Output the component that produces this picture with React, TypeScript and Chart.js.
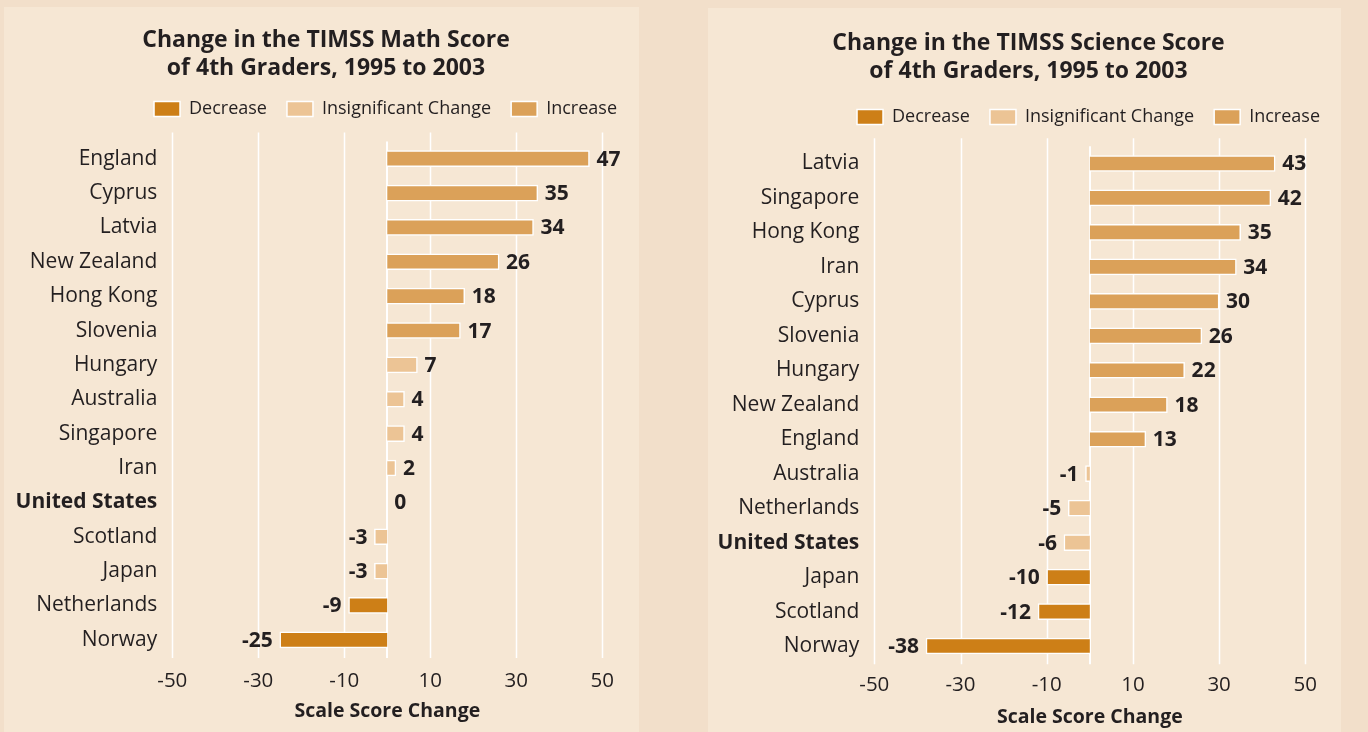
import React, { useEffect, useRef } from "react";
import { Chart, registerables } from "chart.js";

Chart.register(...registerables);

// ---------- data ----------
const LEGEND_LABELS = ["Decrease", "Insignificant Change", "Increase"];
const AXIS_TICKS = [-50, -30, -10, 10, 30, 50];
const AXIS_TITLE = "Scale Score Change";
const HIGHLIGHT = "United States";

const MATH_TITLE = ["Change in the TIMSS Math Score", "of 4th Graders, 1995 to 2003"];
const MATH_COUNTRIES = [
  "England", "Cyprus", "Latvia", "New Zealand", "Hong Kong", "Slovenia", "Hungary",
  "Australia", "Singapore", "Iran", "United States", "Scotland", "Japan", "Netherlands", "Norway",
];
const MATH_CHANGE = [47, 35, 34, 26, 18, 17, 7, 4, 4, 2, 0, -3, -3, -9, -25];
const MATH_STATUS = [
  "Increase", "Increase", "Increase", "Increase", "Increase", "Increase",
  "Insignificant Change", "Insignificant Change", "Insignificant Change", "Insignificant Change",
  "Insignificant Change", "Insignificant Change", "Insignificant Change",
  "Decrease", "Decrease",
];

const SCI_TITLE = ["Change in the TIMSS Science Score", "of 4th Graders, 1995 to 2003"];
const SCI_COUNTRIES = [
  "Latvia", "Singapore", "Hong Kong", "Iran", "Cyprus", "Slovenia", "Hungary", "New Zealand",
  "England", "Australia", "Netherlands", "United States", "Japan", "Scotland", "Norway",
];
const SCI_CHANGE = [43, 42, 35, 34, 30, 26, 22, 18, 13, -1, -5, -6, -10, -12, -38];
const SCI_STATUS = [
  "Increase", "Increase", "Increase", "Increase", "Increase", "Increase", "Increase", "Increase", "Increase",
  "Insignificant Change", "Insignificant Change", "Insignificant Change",
  "Decrease", "Decrease", "Decrease",
];

// ---------- styles ----------
const COLORS: Record<string, string> = {
  "Decrease": "#cd7f17",
  "Insignificant Change": "#ecc495",
  "Increase": "#dba159",
};
const TEXT = "#231f20";
const FONT = "'Open Sans', 'Noto Sans', sans-serif";
const PAGE_BG = "#f2dfca";
const PANEL_BG = "#f6e7d4";

type Layout = {
  left: number; top: number; W: number; H: number;
  padL: number; padR: number; areaLeft: number; xMax: number;
  titlePadTop: number; titlePadBottom: number; spacer: number;
  axisH: number; tickPad: number; axisTitleY: number; gridExtend: number;
};

const LEFT_LAYOUT: Layout = {
  left: 4, top: 7, W: 635, H: 725, padL: 11, padR: 2, areaLeft: 168.3, xMax: 58.07,
  titlePadTop: 19, titlePadBottom: -2, spacer: 13.5, axisH: 75, tickPad: 12,
  axisTitleY: 704, gridExtend: 9,
};
const RIGHT_LAYOUT: Layout = {
  left: 708, top: 8, W: 633, H: 724, padL: 9, padR: 1, areaLeft: 166.3, xMax: 58.05,
  titlePadTop: 21, titlePadBottom: 3, spacer: 10.25, axisH: 68.75, tickPad: 10,
  axisTitleY: 709, gridExtend: 8,
};

const gridPlugin = {
  id: "customGrid",
  beforeDatasetsDraw(chart: any, _args: any, opts: any) {
    const { ctx, chartArea } = chart;
    const xs = chart.scales.x;
    ctx.save();
    ctx.strokeStyle = "#ffffff";
    ctx.lineWidth = 1.5;
    AXIS_TICKS.forEach((v) => {
      const px = Math.round(xs.getPixelForValue(v)) + 0.5;
      ctx.beginPath();
      ctx.moveTo(px, chartArea.top - (opts.extend || 0));
      ctx.lineTo(px, chartArea.bottom + 1);
      ctx.stroke();
    });
    const z = Math.round(xs.getPixelForValue(0));
    ctx.lineWidth = 2;
    ctx.beginPath();
    ctx.moveTo(z, chartArea.top);
    ctx.lineTo(z, chartArea.bottom + 1);
    ctx.stroke();
    ctx.restore();
  },
  afterDraw(chart: any, _args: any, opts: any) {
    // axis title centred under the -50..50 tick span
    const { ctx } = chart;
    const xs = chart.scales.x;
    const cx = (xs.getPixelForValue(AXIS_TICKS[0]) + xs.getPixelForValue(AXIS_TICKS[AXIS_TICKS.length - 1])) / 2;
    ctx.save();
    ctx.fillStyle = TEXT;
    ctx.font = `bold 19.5px ${FONT}`;
    ctx.textAlign = "center";
    ctx.textBaseline = "middle";
    ctx.fillText(AXIS_TITLE, cx, opts.titleY);
    ctx.restore();
  },
};

const valuePlugin = {
  id: "valueLabels",
  afterDatasetsDraw(chart: any) {
    const { ctx } = chart;
    ctx.save();
    ctx.fillStyle = TEXT;
    ctx.font = `bold 21px ${FONT}`;
    ctx.textBaseline = "middle";
    chart.data.datasets.forEach((ds: any, di: number) => {
      const meta = chart.getDatasetMeta(di);
      meta.data.forEach((el: any, i: number) => {
        const v = ds.data[i];
        if (v === null || v === undefined) return;
        if (v < 0) {
          ctx.textAlign = "right";
          ctx.fillText(String(v), el.x - 7, el.y + 1);
        } else {
          ctx.textAlign = "left";
          ctx.fillText(String(v), el.x + 7, el.y + 1);
        }
      });
    });
    ctx.restore();
  },
};

function Panel(props: {
  title: string[]; countries: string[]; change: number[]; status: string[]; layout: Layout;
}) {
  const ref = useRef<HTMLCanvasElement | null>(null);
  const { title, countries, change, status, layout: L } = props;

  useEffect(() => {
    if (!ref.current) return;
    const datasets = LEGEND_LABELS.map((name) => ({
      label: name,
      data: change.map((v, i) => (status[i] === name ? v : null)),
      backgroundColor: COLORS[name],
      borderColor: "#ffffff",
      borderWidth: 1.5,
      barThickness: 16,
      grouped: false,
    }));

    const chart = new Chart(ref.current, {
      type: "bar",
      data: { labels: countries, datasets },
      plugins: [gridPlugin, valuePlugin],
      options: {
        indexAxis: "y",
        responsive: false,
        animation: false,
        layout: { padding: { left: L.padL, right: L.padR, top: 0, bottom: 0 } },
        plugins: {
          tooltip: { enabled: false },
          customGrid: { extend: L.gridExtend, titleY: L.axisTitleY },
          title: {
            display: true,
            text: title,
            color: TEXT,
            font: { family: FONT, size: 23, weight: "bold", lineHeight: 28 / 23 },
            padding: { top: L.titlePadTop, bottom: L.titlePadBottom },
          },
          legend: {
            display: true,
            position: "top",
            align: "end",
            labels: {
              color: TEXT,
              font: { family: FONT, size: 18 },
              boxWidth: 26,
              boxHeight: 15,
              padding: 20,
            },
          },
        } as any,
        scales: {
          x: {
            type: "linear",
            min: -50,
            max: L.xMax,
            grid: { display: false, drawTicks: false },
            border: { display: false },
            afterBuildTicks: (s: any) => {
              s.ticks = AXIS_TICKS.map((v) => ({ value: v }));
            },
            afterFit: (s: any) => {
              s.height = L.axisH;
            },
            ticks: {
              color: TEXT,
              padding: L.tickPad,
              maxRotation: 0,
              autoSkip: false,
              font: { family: FONT, size: 20.5 },
              callback: (v: any) => String(v),
            },
            title: { display: false },
          },
          spacer: {
            type: "linear",
            position: "top",
            display: true,
            grid: { display: false, drawTicks: false },
            border: { display: false },
            ticks: { display: false },
            afterFit: (s: any) => {
              s.height = L.spacer;
            },
          },
          y: {
            type: "category",
            grid: { display: false, drawTicks: false },
            border: { display: false },
            afterFit: (s: any) => {
              s.width = L.areaLeft - L.padL;
            },
            ticks: {
              color: TEXT,
              padding: 15,
              autoSkip: false,
              font: (c: any) => ({
                family: FONT,
                size: 21,
                weight: countries[c.index] === HIGHLIGHT ? "bold" : "normal",
              }),
            },
          },
        } as any,
      },
    } as any);
    return () => chart.destroy();
  }, []);

  return (
    <div
      style={{
        position: "absolute",
        left: L.left,
        top: L.top,
        width: L.W,
        height: L.H,
        background: PANEL_BG,
      }}
    >
      <canvas ref={ref} width={L.W} height={L.H} style={{ width: L.W, height: L.H, display: "block" }} />
    </div>
  );
}

export default function App() {
  return (
    <div
      style={{
        position: "fixed",
        left: 0,
        top: 0,
        width: 1368,
        height: 732,
        background: PAGE_BG,
        overflow: "hidden",
      }}
    >
      <Panel title={MATH_TITLE} countries={MATH_COUNTRIES} change={MATH_CHANGE} status={MATH_STATUS} layout={LEFT_LAYOUT} />
      <Panel title={SCI_TITLE} countries={SCI_COUNTRIES} change={SCI_CHANGE} status={SCI_STATUS} layout={RIGHT_LAYOUT} />
    </div>
  );
}
